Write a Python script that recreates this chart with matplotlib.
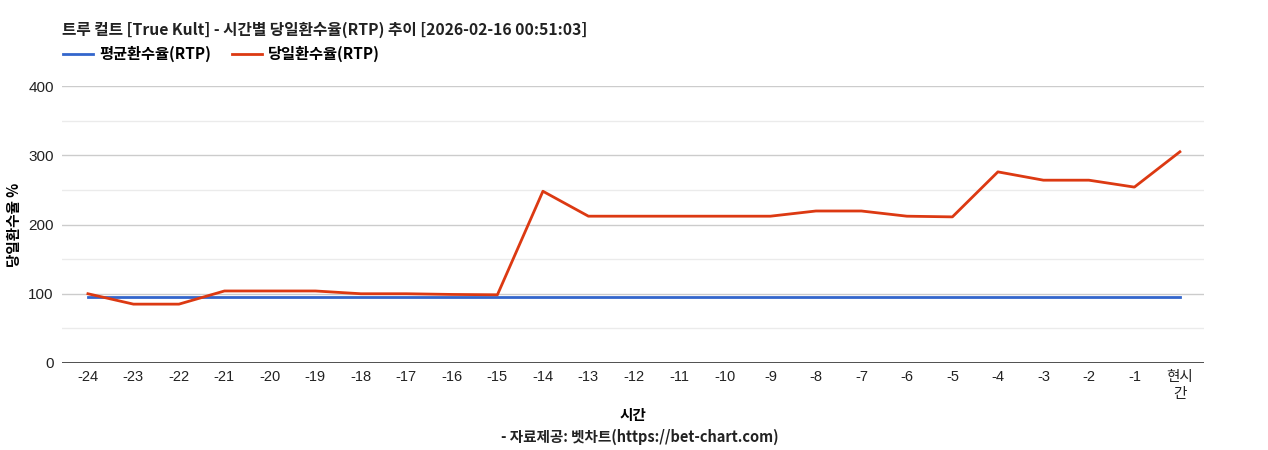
import matplotlib
matplotlib.use('Agg')
import matplotlib.pyplot as plt
from matplotlib.ticker import MultipleLocator

plt.rcParams['font.family'] = ['Liberation Sans', 'Noto Sans CJK KR', 'DejaVu Sans']

# data
hours = ['-24', '-23', '-22', '-21', '-20', '-19', '-18', '-17', '-16', '-15',
         '-14', '-13', '-12', '-11', '-10', '-9', '-8', '-7', '-6', '-5',
         '-4', '-3', '-2', '-1', '현시\n간']
avg_rtp = [96] * 25
daily_rtp = [100, 85, 85, 104, 104, 104, 100, 100, 99, 98.5,
             248, 212, 212, 212, 212, 212, 219.5, 219.5, 212, 211,
             276, 264, 264, 254, 305]

title = '트루 컬트 [True Kult] - 시간별 당일환수율(RTP) 추이 [2026-02-16 00:51:03]'
bold_font = ['Noto Sans CJK KR', 'DejaVu Sans']

fig = plt.figure(figsize=(12.68, 4.5), dpi=100)
ax = fig.add_axes([62 / 1268, 1 - 363 / 450, (1204 - 62) / 1268, (363 - 86) / 450])

x = list(range(len(hours)))
ax.plot(x, avg_rtp, color='#3366cc', lw=2, label='평균환수율(RTP)')
ax.plot(x, daily_rtp, color='#dc3912', lw=2, label='당일환수율(RTP)')

ax.set_xlim(-0.57, 24.53)
ax.set_ylim(0, 400)
ax.yaxis.set_major_locator(MultipleLocator(100))
ax.yaxis.set_minor_locator(MultipleLocator(50))
ax.grid(which='major', axis='y', color='#cccccc', lw=1)
ax.grid(which='minor', axis='y', color='#ebebeb', lw=1)
ax.set_axisbelow(True)
ax.axhline(0, color='#333333', lw=1.2)

for s in ['top', 'right', 'left', 'bottom']:
    ax.spines[s].set_visible(False)

ax.set_xticks(x)
ax.set_xticklabels(hours, fontsize=10.5, color='#222222', linespacing=1.25)
ax.tick_params(axis='x', length=0, pad=5)
ax.tick_params(axis='y', which='both', length=0, pad=6, labelsize=11, labelcolor='#222222')

ax.set_ylabel('당일환수율 %', fontsize=10.5, fontweight='bold', family=bold_font)
ax.yaxis.set_label_coords(-48 / 1142, 0.5)
ax.yaxis.label.set_va('center')
ax.set_xlabel('시간', fontsize=10.5, fontweight='bold', family=bold_font)
ax.xaxis.set_label_coords(0.5, -(415 - 363) / 277)
ax.xaxis.label.set_va('center')

fig.text(62 / 1268, 1 - 30 / 450, title, fontsize=11.3, fontweight='bold',
         family=bold_font, va='center', ha='left', color='#222222')
fig.text(640 / 1268, 1 - 437 / 450, '- 자료제공: 벳차트(https://bet-chart.com)', fontsize=10.5,
         fontweight='bold', family=bold_font, va='center', ha='center', color='#222222')

leg = fig.legend(loc='center left', bbox_to_anchor=(63 / 1268, 1 - 54 / 450), ncol=2,
                 frameon=False, borderaxespad=0, borderpad=0,
                 handlelength=1.96, handletextpad=0.45, columnspacing=1.3,
                 prop={'family': bold_font, 'weight': 'bold', 'size': 11})

fig.savefig('out.png', dpi=100)
